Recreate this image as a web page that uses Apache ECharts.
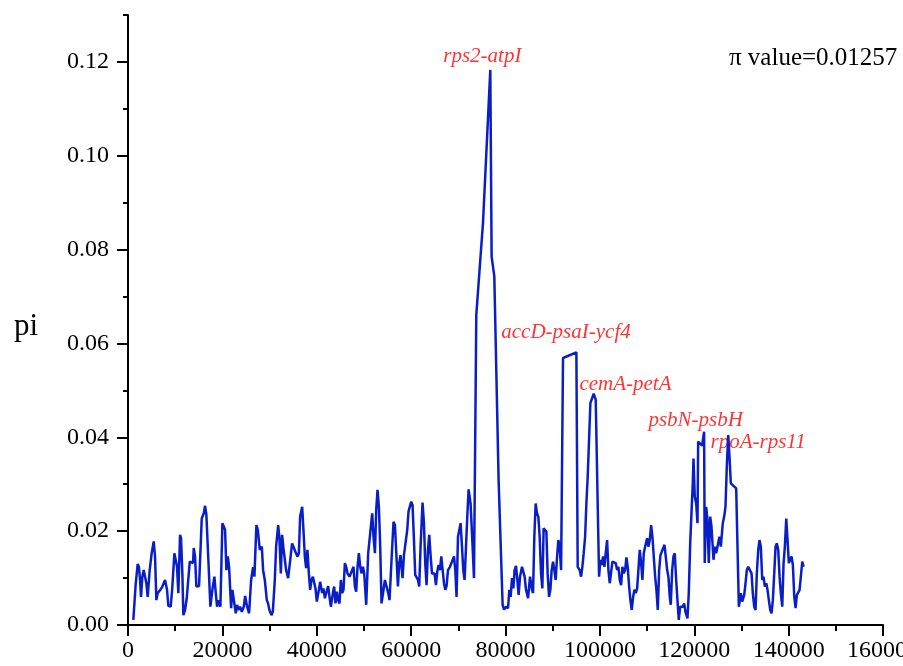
<!DOCTYPE html>
<html>
<head>
<meta charset="utf-8">
<script src="https://cdn.jsdelivr.net/npm/echarts@6/dist/echarts.min.js"></script>
<style>
html,body{margin:0;padding:0;background:#fff;}
#chart{width:903px;height:666px;}
</style>
</head>
<body>
<div id="chart"></div>
<script>
// Window position (bp)
const positions = [
1130,1630,2050,2330,2550,2760,3040,3330,3610,3890,4170,4600,5020,5450,5730,6010,6290,6580,6860,7280,
7850,8270,8550,9050,9400,9830,10110,10390,10670,11030,11240,11520,11730,12090,12450,12790,13090,13510,13790,13930,
14210,14490,15060,15630,16060,16330,16610,17030,17460,17880,18310,18600,18880,19150,19580,20000,20300,20570,20850,21150,
21420,21850,22120,22420,22840,23120,23400,23760,24120,24540,24820,25240,25660,26090,26510,26790,27210,27510,27930,28360,
28630,28990,29420,29690,29970,30390,30690,31110,31390,31820,32090,32390,32660,32940,33240,33510,33940,34360,34780,35060,
35480,35910,36210,36480,36910,37180,37480,37750,38030,38330,38600,38880,39180,39450,39730,40020,40450,40720,41150,41420,
41720,42000,42420,42700,42990,43420,43690,43970,44270,44540,44820,45110,45390,45670,45960,46240,46510,46940,47360,47790,
48080,48360,48640,48930,49210,49480,49780,50060,50480,50900,51330,51750,52030,52330,52600,52880,53170,53450,53730,54150,
54450,54870,55150,55420,55850,56270,56570,57200,57480,57750,58180,58480,58900,59180,59450,59750,60020,60300,60600,60870,
61150,61450,61720,62000,62420,62720,62990,63270,63570,63840,64120,64420,64690,64970,65260,65540,65820,66110,66390,66660,
66960,67240,67510,67810,68230,68660,69080,69360,69630,69930,70210,70480,70780,71050,71330,71630,71900,72180,72600,73030,
73320,73600,73810,75230,76780,77060,77630,78540,79390,79690,80110,80540,80810,81090,81380,81660,81930,82230,82510,82780,
83080,83500,83780,84050,84350,84780,85200,85620,85840,86110,86390,86680,86960,87240,87530,87810,88080,88380,88660,88930,
89230,89510,89780,90080,90350,90630,90930,91200,91480,91780,92050,92190,95020,95300,95720,96020,96290,96570,96870,97140,
97420,97990,98690,99120,99830,100110,100390,100680,100960,101240,101530,101810,102090,102380,102660,102930,103360,103650,103930,104210,
104500,104780,105060,105350,105630,105900,106200,106470,106750,107050,107320,107600,107900,108170,108450,108740,109020,109300,109590,110010,
110290,110570,110860,111140,111420,111710,111990,112270,112560,112840,113260,113690,113960,114260,114530,114810,115020,115320,115590,115870,
116170,116440,116720,117020,117290,117570,117860,118140,118560,118840,119140,119410,119690,119840,120110,120410,120690,120830,121660,122090,
122220,122520,122800,123080,123380,123650,124080,124350,124650,125070,125340,125630,126050,126340,126620,126900,127200,127470,127750,128890,
129310,129450,129870,130170,130590,130870,131140,131440,131860,132140,132410,132710,132990,133260,133560,133830,134110,134410,134680,134960,
135260,135530,135810,136110,136380,136660,136950,137230,137500,137800,138080,138350,138650,138930,139200,139500,139770,140050,140350,140620,
140900,141200,141470,141750,142040,142320,142590,142890,143170
];
// Nucleotide diversity (pi)
const piValues = [
0.0011,0.0087,0.0130,0.0123,0.0096,0.0060,0.0103,0.0117,0.0114,0.0089,0.0060,0.0117,0.0153,0.0178,0.0146,0.0053,0.0068,0.0064,0.0075,0.0082,
0.0096,0.0075,0.0041,0.0039,0.0082,0.0153,0.0156,0.0124,0.0068,0.0192,0.0185,0.0110,0.0021,0.0032,0.0057,0.0060,0.0135,0.0135,0.0132,0.0164,
0.0146,0.0082,0.0083,0.0227,0.0238,0.0254,0.0235,0.0139,0.0039,0.0075,0.0103,0.0068,0.0039,0.0053,0.0039,0.0217,0.0210,0.0203,0.0117,0.0146,
0.0124,0.0036,0.0075,0.0078,0.0025,0.0043,0.0032,0.0039,0.0028,0.0039,0.0062,0.0039,0.0025,0.0096,0.0123,0.0103,0.0213,0.0203,0.0160,0.0167,
0.0117,0.0096,0.0053,0.0046,0.0032,0.0021,0.0028,0.0096,0.0167,0.0213,0.0185,0.0110,0.0192,0.0164,0.0164,0.0117,0.0100,0.0103,0.0174,0.0178,
0.0156,0.0146,0.0153,0.0231,0.0252,0.0203,0.0146,0.0121,0.0160,0.0110,0.0075,0.0096,0.0103,0.0103,0.0078,0.0050,0.0075,0.0092,0.0068,0.0078,
0.0057,0.0068,0.0083,0.0060,0.0039,0.0068,0.0082,0.0046,0.0071,0.0053,0.0046,0.0096,0.0068,0.0075,0.0132,0.0124,0.0110,0.0103,0.0107,0.0124,
0.0082,0.0071,0.0124,0.0153,0.0124,0.0110,0.0124,0.0110,0.0043,0.0153,0.0196,0.0238,0.0188,0.0153,0.0245,0.0288,0.0252,0.0167,0.0046,0.0050,
0.0096,0.0097,0.0068,0.0053,0.0139,0.0220,0.0213,0.0082,0.0132,0.0149,0.0100,0.0149,0.0153,0.0203,0.0242,0.0242,0.0263,0.0256,0.0181,0.0107,
0.0103,0.0096,0.0082,0.0167,0.0261,0.0217,0.0132,0.0085,0.0160,0.0192,0.0149,0.0110,0.0107,0.0110,0.0085,0.0114,0.0128,0.0117,0.0146,0.0142,
0.0089,0.0075,0.0083,0.0117,0.0124,0.0135,0.0146,0.0117,0.0060,0.0188,0.0185,0.0217,0.0167,0.0117,0.0096,0.0167,0.0231,0.0289,0.0259,0.0167,
0.0100,0.0096,0.0661,0.0857,0.1183,0.0785,0.0743,0.0309,0.0043,0.0033,0.0039,0.0036,0.0075,0.0060,0.0100,0.0078,0.0117,0.0126,0.0096,0.0064,
0.0103,0.0124,0.0128,0.0103,0.0075,0.0057,0.0103,0.0075,0.0068,0.0188,0.0259,0.0238,0.0231,0.0188,0.0110,0.0078,0.0206,0.0203,0.0199,0.0110,
0.0060,0.0075,0.0117,0.0135,0.0117,0.0096,0.0146,0.0181,0.0167,0.0117,0.0114,0.0569,0.0581,0.0124,0.0117,0.0103,0.0124,0.0153,0.0188,0.0259,
0.0316,0.0473,0.0493,0.0480,0.0103,0.0139,0.0128,0.0146,0.0124,0.0153,0.0181,0.0117,0.0089,0.0085,0.0135,0.0139,0.0132,0.0117,0.0124,0.0096,
0.0085,0.0124,0.0110,0.0117,0.0144,0.0124,0.0082,0.0053,0.0032,0.0060,0.0075,0.0068,0.0078,0.0075,0.0160,0.0132,0.0096,0.0153,0.0167,0.0185,
0.0167,0.0181,0.0213,0.0188,0.0146,0.0103,0.0075,0.0032,0.0117,0.0149,0.0160,0.0171,0.0146,0.0117,0.0103,0.0060,0.0043,0.0117,0.0146,0.0153,
0.0096,0.0053,0.0011,0.0039,0.0043,0.0039,0.0046,0.0028,0.0014,0.0068,0.0174,0.0238,0.0302,0.0355,0.0274,0.0259,0.0217,0.0391,0.0382,0.0412,
0.0132,0.0252,0.0224,0.0132,0.0231,0.0210,0.0139,0.0167,0.0153,0.0153,0.0188,0.0167,0.0217,0.0231,0.0252,0.0338,0.0405,0.0359,0.0302,0.0291,
0.0288,0.0039,0.0068,0.0050,0.0064,0.0089,0.0117,0.0124,0.0124,0.0110,0.0068,0.0039,0.0032,0.0110,0.0160,0.0181,0.0167,0.0096,0.0103,0.0082,
0.0089,0.0075,0.0053,0.0032,0.0025,0.0053,0.0110,0.0167,0.0174,0.0160,0.0103,0.0068,0.0039,0.0132,0.0167,0.0227,0.0181,0.0132,0.0139,0.0146,
0.0128,0.0060,0.0036,0.0064,0.0068,0.0075,0.0103,0.0135,0.0124
];
// Hypervariable region labels and their anchor (bp, pi)
const annoNames = ['rps2-atpI','accD-psaI-ycf4','cemA-petA','psbN-psbH','rpoA-rps11'];
const annoX = [66810, 79110, 95660, 110290, 123440];
const annoY = [0.1211, 0.0623, 0.0512, 0.0435, 0.0390];
// Axis ticks
const yTicks = [0, 0.02, 0.04, 0.06, 0.08, 0.10, 0.12];
const yMinorTicks = [0,0.01,0.02,0.03,0.04,0.05,0.06,0.07,0.08,0.09,0.10,0.11,0.12,0.13];
const xTicks = [0, 20000, 40000, 60000, 80000, 100000, 120000, 140000, 160000];
const axisTitleY = 'pi';
const statText = 'π value=0.01257';

const FONT = '"Liberation Serif","Times New Roman",serif';
const chart = echarts.init(document.getElementById('chart'), null, {renderer: 'canvas'});
const lineData = positions.map((x, i) => [x, piValues[i]]);
const annoData = annoNames.map((n, i) => ({name: n, value: [annoX[i], annoY[i]]}));

chart.setOption({
  animation: false,
  backgroundColor: '#fff',
  title: [
    {text: axisTitleY, left: 9, top: 306, textStyle: {fontFamily: FONT, fontSize: 31, fontWeight: 'normal', color: '#000'}},
    {text: statText, left: 724, top: 41, textStyle: {fontFamily: FONT, fontSize: 25, fontWeight: 'normal', color: '#000'}}
  ],
  grid: {left: 128, right: 20, top: 15, bottom: 41, containLabel: false, outerBoundsMode: 'none'},
  xAxis: {
    type: 'value', min: 0, max: 160000, interval: 20000,
    axisLine: {show: true, onZero: false, lineStyle: {color: '#000', width: 2}},
    axisTick: {show: true, length: 11, lineStyle: {color: '#000', width: 2}, customValues: xTicks},
    minorTick: {show: true, splitNumber: 2, length: 6, lineStyle: {color: '#000', width: 2}},
    axisLabel: {show: true, margin: 14, fontFamily: FONT, fontSize: 24, color: '#000', customValues: xTicks,
      formatter: v => String(v), hideOverlap: false},
    splitLine: {show: false}, minorSplitLine: {show: false}
  },
  yAxis: [
    {
      type: 'value', min: 0, max: 0.13, interval: 0.01, position: 'left',
      axisLine: {show: true, onZero: false, lineStyle: {color: '#000', width: 2}},
      axisTick: {show: true, length: 5, lineStyle: {color: '#000', width: 2}, customValues: yMinorTicks},
      axisLabel: {show: false},
      splitLine: {show: false}
    },
    {
      type: 'value', min: 0, max: 0.13, interval: 0.02, position: 'left', offset: 0,
      axisLine: {show: false},
      axisTick: {show: true, length: 11, lineStyle: {color: '#000', width: 2}, customValues: yTicks},
      axisLabel: {show: true, margin: 19, fontFamily: FONT, fontSize: 24, color: '#000', customValues: yTicks,
        formatter: v => v.toFixed(2)},
      splitLine: {show: false}
    }
  ],
  series: [
    {
      type: 'line', data: lineData, yAxisIndex: 0, showSymbol: false, symbol: 'none',
      lineStyle: {color: '#0a1ec8', width: 2.5}, silent: true
    },
    {
      type: 'scatter', data: annoData, yAxisIndex: 0, symbolSize: 0, silent: true,
      label: {show: true, position: 'right', distance: 0, formatter: p => p.name,
        fontFamily: FONT, fontStyle: 'italic', fontSize: 21, color: '#ff0000'}
    }
  ]
});
</script>
</body>
</html>
